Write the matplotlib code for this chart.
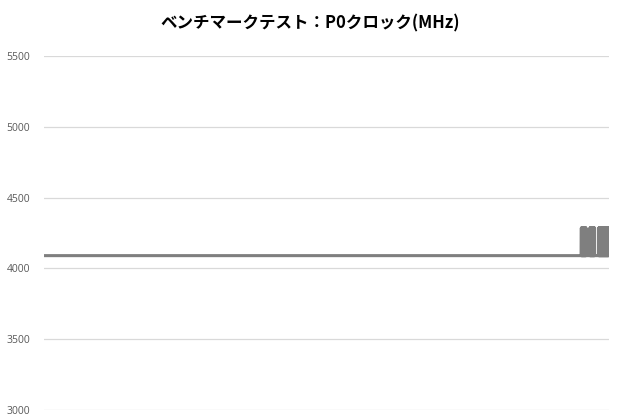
import matplotlib
matplotlib.use("Agg")
import matplotlib.pyplot as plt
import numpy as np

# Data: P0 clock (MHz). Baseline, then bursts where the clock toggles
# rapidly between base and boost, separated by short idle gaps.
base_clock = 4090
boost_clock = 4285
baseline_len = 5375
burst_pairs = [24, 24, 51]      # toggle pairs per burst
gap_lens = [38, 40]             # idle samples between bursts
y_ticks = [3000, 3500, 4000, 4500, 5000, 5500]
title = "ベンチマークテスト：P0クロック(MHz)"

parts = [[base_clock] * baseline_len]
for i, n in enumerate(burst_pairs):
    parts.append([boost_clock, base_clock] * n)
    if i < len(gap_lens):
        parts.append([base_clock] * gap_lens[i])
series = np.concatenate(parts)
x = np.arange(len(series))

plt.rcParams['path.simplify'] = False
plt.rcParams['font.family'] = ['Noto Sans CJK JP', 'DejaVu Sans']
fig = plt.figure(figsize=(6.2, 4.2), dpi=100)
ax = fig.add_axes([0.071, 0.0238, 0.911, 0.843])

ax.plot(x, series, color="#7f7f7f", linewidth=2.2, solid_joinstyle="round",
        solid_capstyle="butt", zorder=3)
ax.set_xlim(0, len(series) - 1)
ax.set_ylim(3000, 5500)
ax.set_yticks(y_ticks)
ax.set_yticklabels([str(v) for v in y_ticks], fontfamily=['Open Sans', 'DejaVu Sans'],
                   fontsize=7.5, color="#595959")
ax.set_xticks([])
ax.tick_params(axis='y', length=0, pad=10)
ax.grid(axis='y', color="#d9d9d9", linewidth=0.9)
ax.set_axisbelow(True)
for s in ax.spines.values():
    s.set_visible(False)

fig.text(0.5, 0.945, title, ha='center', va='center', fontsize=11.9,
         fontweight='bold', color="#000000")

fig.savefig("out.png", dpi=100)
